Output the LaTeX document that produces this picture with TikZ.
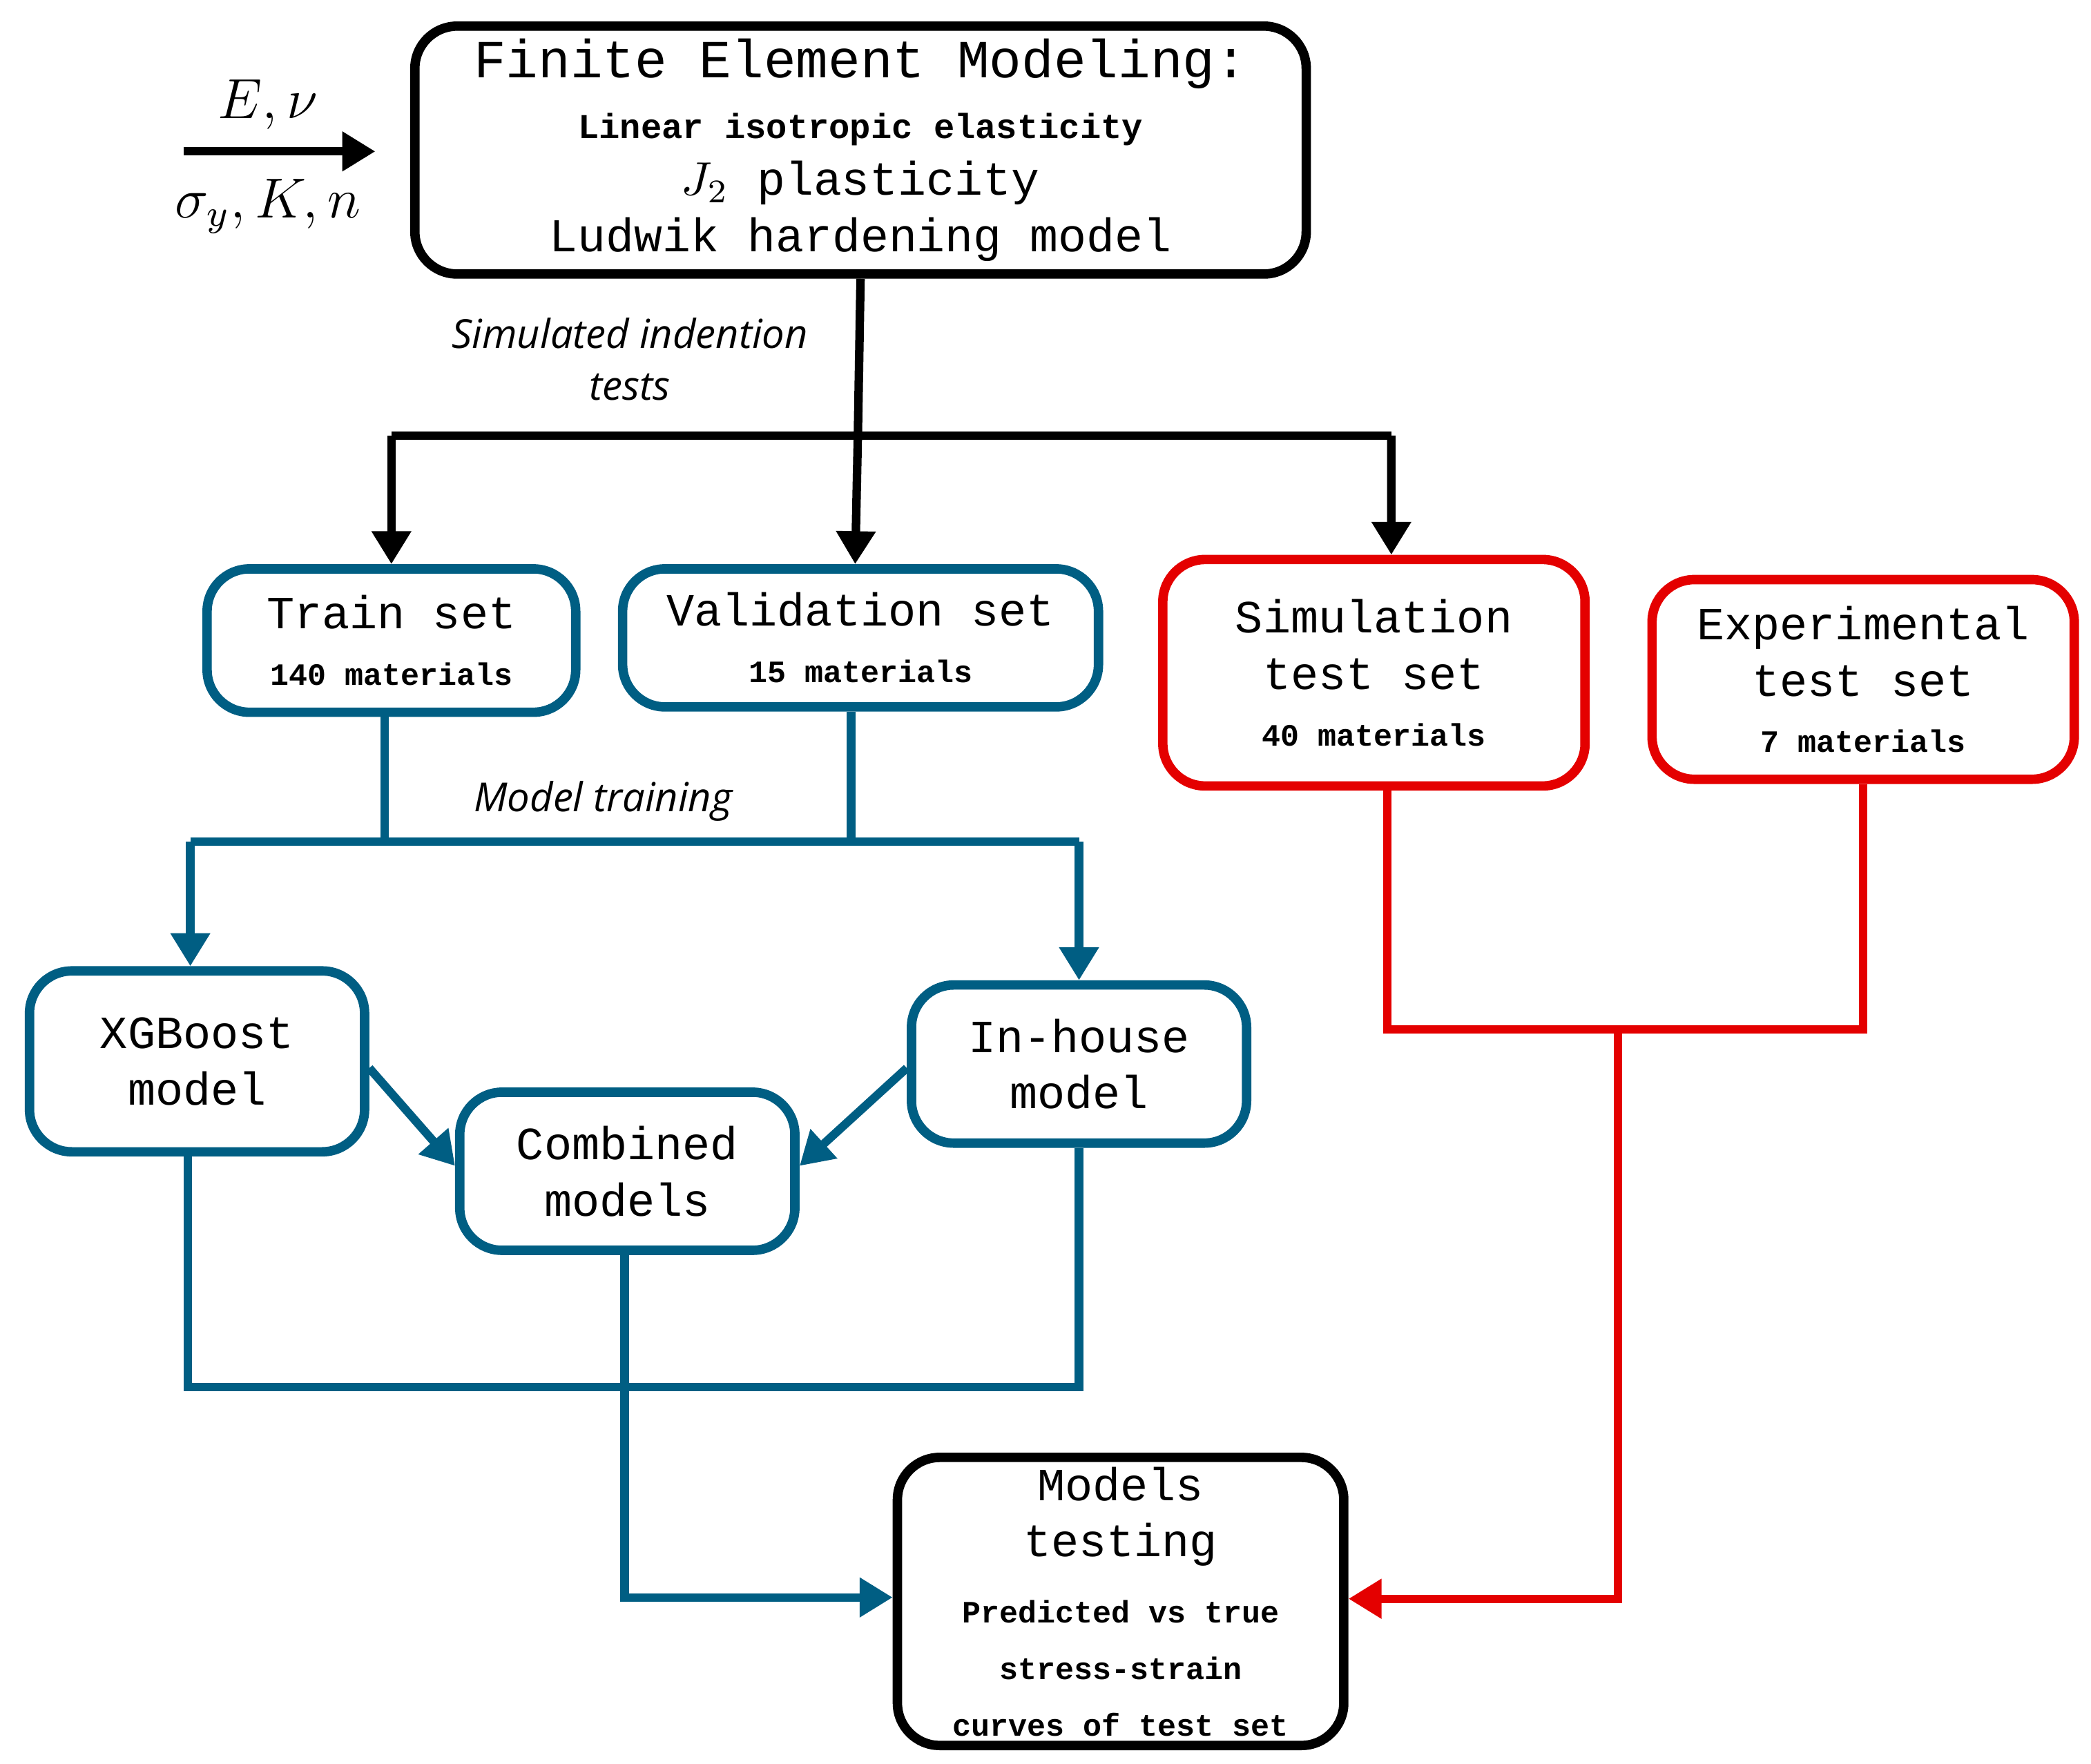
\documentclass[tikz,border=0pt]{standalone}
\usepackage{fontspec}
\setmainfont{Liberation Mono}
\newfontfamily\labelfont{Open Sans}
\usetikzlibrary{arrows.meta,positioning}
\definecolor{flowblue}{RGB}{0,94,131}
\definecolor{flowred}{RGB}{228,0,0}
\tikzset{flow-box/.style={draw, rectangle, line width=2pt, rounded corners=9pt, align=center, inner sep=2pt}}
\tikzset{flow-path/.style={draw, line width=1.8pt}}
\tikzset{flow-arrow/.style={-{Triangle[length=7pt,width=8pt]}, draw, line width=1.8pt}}
\tikzset{flow-label/.style={font=\labelfont\itshape\fontsize{8.5}{11}\selectfont, align=center}}
\newcommand{\bigtxt}[1]{{\fontsize{9.8}{12}\selectfont #1}}
\newcommand{\smalltxt}[1]{{\fontsize{6.6}{8}\selectfont\bfseries #1}}

\begin{document}
\begin{tikzpicture}[x=1cm,y=1cm]
	\useasboundingbox (0,0) rectangle (15.6,13.16);
	% top box
	\node[flow-box, minimum width=6.65cm, minimum height=1.85cm](fem) at (6.42,12.04)
		{\fontsize{11.4}{14}\selectfont Finite Element Modeling:\\[1pt]
		 \fontsize{7.4}{9.5}\selectfont\bfseries Linear isotropic elasticity\\ $J_2$ plasticity\\ Ludwik hardening model};
	\coordinate (inpstart) at (1.37,12.03);
	\coordinate (inpend) at (2.80,12.03);
	\path[flow-arrow](inpstart) -- (inpend);
	\node(inptop) at (2.0,12.38) {\fontsize{12}{14}\selectfont $E,\nu$};
	\node(inpbot) at (2.0,11.62) {\fontsize{12}{14}\selectfont $\sigma_y,K,n$};

	% data sets
	\node[flow-box, draw=flowblue, minimum width=2.75cm, minimum height=1.07cm](train) at (2.92,8.38)
		{\bigtxt{Train set}\\\smalltxt{140 materials}};
	\node[flow-box, draw=flowblue, minimum width=3.55cm, minimum height=1.03cm](valid) at (6.42,8.40)
		{\bigtxt{Validation set}\\\smalltxt{15 materials}};
	\node[flow-box, draw=flowred, minimum width=3.15cm, minimum height=1.69cm](simtest) at (10.25,8.14)
		{\bigtxt{Simulation}\\\bigtxt{test set}\\\smalltxt{40 materials}};
	\node[flow-box, draw=flowred, minimum width=3.15cm, minimum height=1.49cm](exptest) at (13.90,8.09)
		{\bigtxt{Experimental}\\\bigtxt{test set}\\\smalltxt{7 materials}};

	% simulated tests paths
	\coordinate (femsplit) at (6.40,9.91);
	\coordinate (trainturn) at (2.92,9.91);
	\coordinate (simturn) at (10.38,9.91);
	\path[flow-path](fem.south) -- (femsplit);
	\path[flow-arrow](trainturn) -- (train.north);
	\path[flow-arrow](femsplit) -- ([xshift=-0.04cm]valid.north);
	\path[flow-arrow](simturn) -- ([xshift=0.13cm]simtest.north);
	\path[flow-path](trainturn) -- (simturn);
	\node[flow-label](simlbl) at (4.70,10.48) {Simulated indention\\tests};

	% models
	\node[flow-box, draw=flowblue, minimum width=2.5cm, minimum height=1.35cm](xgb) at (1.47,5.24)
		{\bigtxt{XGBoost}\\\bigtxt{model}};
	\node[flow-box, draw=flowblue, minimum width=2.5cm, minimum height=1.18cm](inhouse) at (8.05,5.22)
		{\bigtxt{In-house}\\\bigtxt{model}};
	\node[flow-box, draw=flowblue, minimum width=2.5cm, minimum height=1.18cm](comb) at (4.68,4.42)
		{\bigtxt{Combined}\\\bigtxt{models}};
	\node[flow-box, minimum width=3.33cm, minimum height=2.14cm](testing) at (8.36,1.21)
		{\bigtxt{Models}\\\bigtxt{testing}\\[2pt]\smalltxt{Predicted vs true}\\\smalltxt{stress-strain}\\\smalltxt{curves of test set}};

	% training paths
	\coordinate (trainlow) at (2.87,6.88);
	\coordinate (validlow) at (6.35,6.88);
	\coordinate (xgbturn) at (1.42,6.88);
	\coordinate (inturn) at (8.05,6.88);
	\path[flow-path, flowblue](train.south -| trainlow) -- (trainlow);
	\path[flow-path, flowblue](valid.south -| validlow) -- (validlow);
	\path[flow-path, flowblue](xgbturn) -- (inturn);
	\path[flow-arrow, flowblue](xgbturn) -- (xgb.north -| xgbturn);
	\path[flow-arrow, flowblue](inturn) -- (inhouse.north);
	\node[flow-label](trainlbl) at (4.50,7.18) {Model training};

	% combining paths
	\path[flow-arrow, flowblue]([yshift=-0.05cm]xgb.east) -- ([yshift=0.04cm]comb.west);
	\path[flow-arrow, flowblue]([yshift=-0.03cm]inhouse.west) -- ([yshift=0.04cm]comb.east);

	% testing paths
	\coordinate (xgbdown) at (1.40,2.81);
	\coordinate (indown) at (8.05,2.81);
	\coordinate (combdown) at (4.66,1.24);
	\path[flow-path, flowblue](xgb.south -| xgbdown) -- (xgbdown) -- (indown) -- (inhouse.south);
	\path[flow-arrow, flowblue](comb.south -| combdown) -- (combdown) -- (testing.west |- combdown);
	\coordinate (simlow) at (10.35,5.48);
	\coordinate (explow) at (13.90,5.48);
	\coordinate (redmid) at (12.07,5.48);
	\coordinate (redturn) at (12.07,1.23);
	\path[flow-path, flowred](simtest.south -| simlow) -- (simlow) -- (explow) -- (exptest.south);
	\path[flow-arrow, flowred](redmid) -- (redturn) -- (testing.east |- redturn);
\end{tikzpicture}
\end{document}
